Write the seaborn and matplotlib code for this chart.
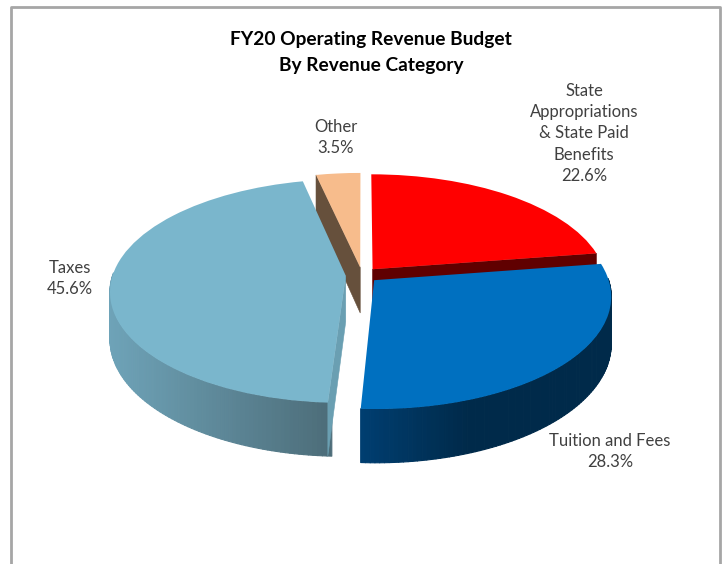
import numpy as np
import seaborn as sns
import matplotlib.pyplot as plt
from matplotlib.collections import PolyCollection
from matplotlib.colors import to_rgb
from matplotlib.patches import Polygon
from matplotlib.transforms import Transform

categories = ['State\nAppropriations\n& State Paid\nBenefits', 'Tuition and Fees', 'Taxes', 'Other']
shares = [22.6, 28.3, 45.6, 3.5]
top_colors = ['#FF0000', '#0070C0', '#7AB6CC', '#F7BC8C']
wall_left = ['#600000', '#003E70', '#6EA3B8', '#66503C']
wall_right = ['#600000', '#002A4A', '#4C6C78', '#66503C']
cut_colors = ['#600000', '#003050', '#6A9FB2', '#66503C']

W, H = 722, 564
cx, cy = 362, 275
rx, ry = 233, 109.5
tilt = 0.138
depth = 0.42

sns.set_theme(style='white')
plt.rcParams['font.family'] = ['Lato', 'DejaVu Sans']


def project(x, y, z=0.0):
    w = 1 + tilt * y
    return x / w, (y - z * depth) / w


class Perspective(Transform):
    input_dims = 2
    output_dims = 2

    def transform_non_affine(self, values):
        px, py = project(values[:, 0], values[:, 1])
        return np.column_stack([px, py])


fig = plt.figure(figsize=(W / 100, H / 100), dpi=100, facecolor='white')
ax = fig.add_axes([0, 0, 1, 1])

wedges, _ = ax.pie(shares, explode=[0.07] * 4, startangle=90, counterclock=False,
                   colors=top_colors, normalize=True, wedgeprops={'linewidth': 0, 'edgecolor': 'none'})
ax.set_aspect('auto')
ax.set_xlim(-cx / rx, (W - cx) / rx)
ax.set_ylim((cy - H) / ry, cy / ry)
ax.axis('off')

# back slices first, the front ones cover their walls
order = [3, 0, 2, 1]
for n, i in enumerate(order):
    wd = wedges[i]
    base = 2 + 3 * n
    x0, y0 = wd.center
    t1, t2 = wd.theta1, wd.theta2

    # outer wall, only the part that faces the viewer
    a = np.radians(np.arange(t1, t2 + 1, 1.0))
    a = a[np.sin(a) < 0.03]
    if len(a) > 1:
        xs, ys = x0 + np.cos(a), y0 + np.sin(a)
        px, py = project(xs, ys)
        qx, qy = project(xs, ys, 1.0)
        quads = [[(px[k], py[k]), (px[k + 1], py[k + 1]), (qx[k + 1], qy[k + 1]), (qx[k], qy[k])]
                 for k in range(len(a) - 1)]
        left, right = np.array(to_rgb(wall_left[i])), np.array(to_rgb(wall_right[i]))
        if i == 1:
            # tuition wall is dark early on
            frac = np.clip((px[:-1] - px.min()) / 0.45, 0, 1)
        else:
            frac = (px[:-1] - px.min()) / (px.max() - px.min())
        cols = [left + (right - left) * f for f in frac]
        ax.add_collection(PolyCollection(quads, facecolors=cols, edgecolors=cols,
                                         linewidths=0.8, zorder=base))

    # cut faces
    if i == 0:
        edge = t1
    elif i == 2:
        edge = t2
    elif i == 3:
        edge = t2
    else:
        edge = None
    if edge is not None:
        ex, ey = x0 + np.cos(np.radians(edge)), y0 + np.sin(np.radians(edge))
        pts = [project(x0, y0), project(ex, ey), project(ex, ey, 1.0), project(x0, y0, 1.0)]
        ax.add_patch(Polygon(pts, closed=True, facecolor=cut_colors[i], edgecolor=cut_colors[i],
                             linewidth=0.4, zorder=base + 1))

    wd.set_transform(Perspective() + ax.transData)
    wd.set_clip_on(False)
    wd.set_zorder(base + 2)

# chart frame
fig.add_artist(plt.Line2D([10.5 / W, 10.5 / W, 720 / W, 720 / W], [0, 1 - 6.5 / H, 1 - 6.5 / H, 0],
                          color='#A6A6A6', lw=2))

fig.text(371 / W, 1 - 39 / H, 'FY20 Operating Revenue Budget', ha='center', va='center',
         family=['Lato', 'DejaVu Sans'], weight='bold', fontsize=13.8, color='black')
fig.text(371 / W, 1 - 65 / H, 'By Revenue Category', ha='center', va='center',
         family=['Lato', 'DejaVu Sans'], weight='bold', fontsize=13.8, color='black')

label_pos = [(584, 133.5), (610, 451.5), (70, 278.5), (336, 137.5)]
for name, val, pos in zip(categories, shares, label_pos):
    fig.text(pos[0] / W, 1 - pos[1] / H, f'{name}\n{val}%', ha='center', va='center',
             fontsize=12, color='#404040', linespacing=1.39)

fig.savefig('out.png', dpi=100)
